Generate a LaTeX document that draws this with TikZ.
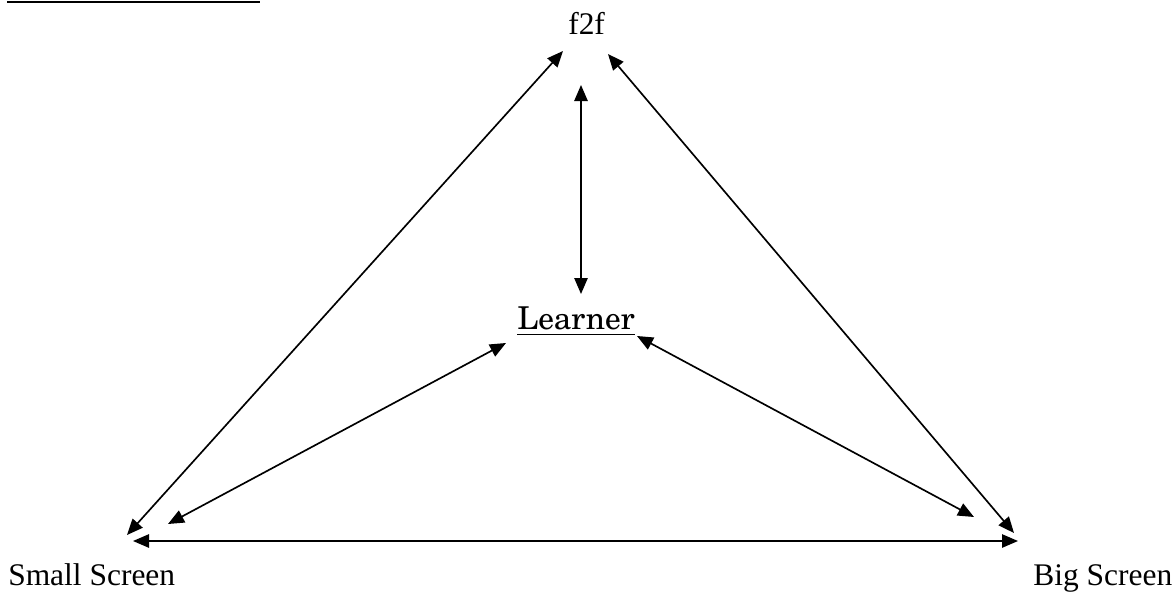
\documentclass[tikz,border=0pt]{standalone}
\usepackage{fontspec}
\setmainfont{Liberation Serif}
\newfontfamily\scholafont[Extension=.otf,UprightFont=texgyreschola-regular]{texgyreschola}
\usetikzlibrary{arrows.meta,calc}
\begin{document}
\begin{tikzpicture}[x=0.75pt,y=-0.75pt,
  lbl/.style={inner sep=0pt,anchor=base west,font=\fontsize{23.6}{28}\selectfont},
  link/.style={line width=1.25pt,{Triangle[length=12pt,width=10pt]}-{Triangle[length=12pt,width=10pt]}}]
\useasboundingbox (0,0) rectangle (1174,593);
% cut-off title underline
\draw[line width=1.4pt] (7,1.7) -- (260,1.7);
% labels
\node[lbl] (f2f) at (568,34) {f2f};
\node[lbl,font=\fontsize{23.6}{28}\selectfont\scholafont] (learner) at (517,329) {Learner};
\draw[line width=1.2pt] ($(learner.base west)+(0,5.5)$) -- ($(learner.base east)+(0,5.5)$);
\node[lbl] (small) at (8,585) {Small Screen};
\node[lbl] (big) at (1033,585) {Big Screen};
% connector end points
\coordinate (fL) at (563,51);
\coordinate (fR) at (608,54);
\coordinate (fB) at (581,85);
\coordinate (lT) at (581,294);
\coordinate (lL) at (506,343);
\coordinate (lR) at (637,336);
\coordinate (sD) at (127,535);
\coordinate (sL) at (168,524);
\coordinate (sH) at (133,541);
\coordinate (bD) at (1014,533);
\coordinate (bL) at (974,517);
\coordinate (bH) at (1018,541);
% connectors
\draw[link] (sD) -- (fL);
\draw[link] (bD) -- (fR);
\draw[link] (fB) -- (lT);
\draw[link] (sL) -- (lL);
\draw[link] (bL) -- (lR);
\draw[link] (sH) -- (bH);
\end{tikzpicture}
\end{document}
